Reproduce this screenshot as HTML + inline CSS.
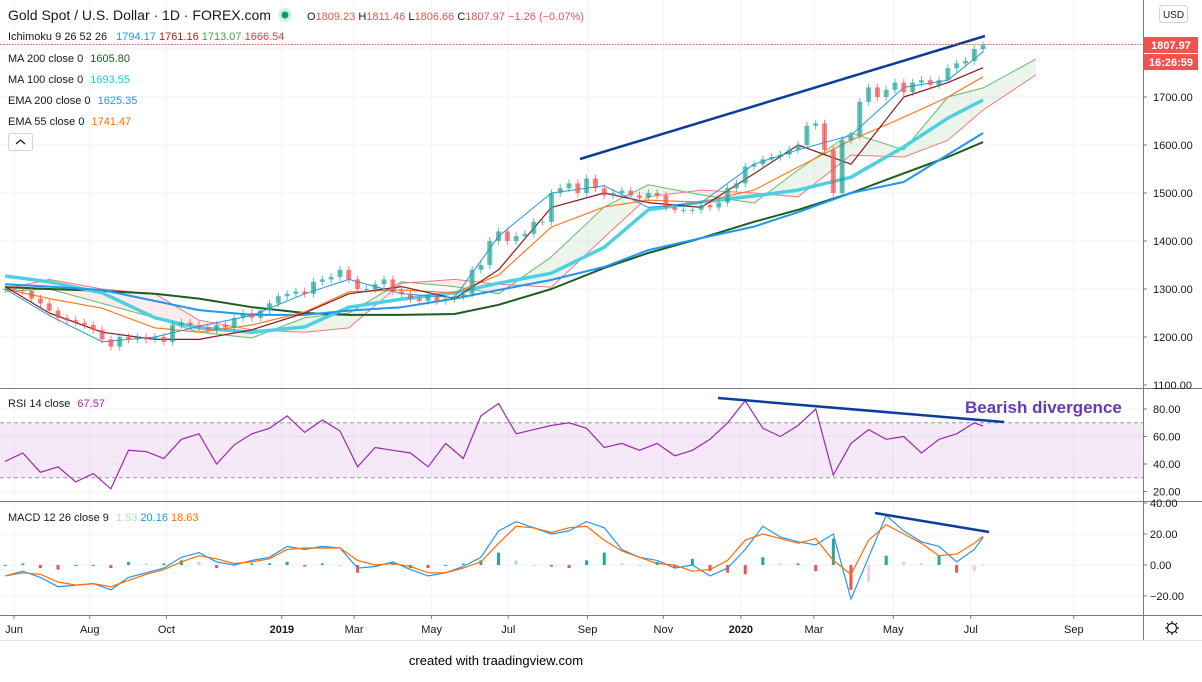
<!DOCTYPE html>
<html><head><meta charset="utf-8">
<style>
html,body{margin:0;padding:0;background:#fff;}
body{width:1202px;height:677px;overflow:hidden;font-family:"Liberation Sans",sans-serif;}
svg text{font-family:"Liberation Sans","DejaVu Sans",sans-serif;}
</style></head>
<body>
<svg id="chart" width="1202" height="677" viewBox="0 0 1202 677" xmlns="http://www.w3.org/2000/svg">
<rect x="0" y="0" width="1202" height="677" fill="#fff"/>
<g id="grid"></g>
<g id="cloud"></g>
<g id="lines"></g>
<g id="candles"></g>
<g id="rsi"></g>
<g id="macd"></g>
<g id="draw">
  <line x1="580" y1="159" x2="985" y2="36" stroke="#0d3d9c" stroke-width="2.5"/>
  <line x1="718" y1="398" x2="1004" y2="422" stroke="#0d3d9c" stroke-width="2.5"/>
  <line x1="875" y1="513" x2="989" y2="532" stroke="#0d3d9c" stroke-width="2.5"/>
  <text x="965" y="413" font-size="17" font-weight="bold" fill="#673ab7">Bearish divergence</text>
</g>
<g id="frame">
  <line x1="1143.5" y1="0" x2="1143.5" y2="640" stroke="#787b86"/>
  <line x1="0" y1="388.5" x2="1202" y2="388.5" stroke="#787b86"/>
  <line x1="0" y1="501.5" x2="1202" y2="501.5" stroke="#787b86"/>
  <line x1="0" y1="615.5" x2="1202" y2="615.5" stroke="#787b86"/>
  <line x1="0" y1="640.5" x2="1202" y2="640.5" stroke="#e0e3eb"/>
  <line x1="0" y1="44.5" x2="1143" y2="44.5" stroke="#ef5350" stroke-dasharray="1.5,1.5"/>
</g>
<g id="axes"></g>
<g id="legend" font-size="11">
  <text x="8" y="20" font-size="14" fill="#131722">Gold Spot / U.S. Dollar · 1D · FOREX.com</text>
  <circle cx="285" cy="15" r="7" fill="#d6efe9"/>
  <circle cx="285" cy="15" r="3.5" fill="#089981"/>
  <text x="307" y="20" fill="#ef5350"><tspan fill="#131722">O</tspan>1809.23 <tspan fill="#131722">H</tspan>1811.46 <tspan fill="#131722">L</tspan>1806.66 <tspan fill="#131722">C</tspan>1807.97 −1.26 (−0.07%)</text>
  <text x="8" y="40" fill="#131722">Ichimoku 9 26 52 26 <tspan dx="6" fill="#2196f3">1794.17</tspan> <tspan fill="#a52714">1761.16</tspan> <tspan fill="#43a047">1713.07</tspan> <tspan fill="#f23645">1666.54</tspan></text>
  <text x="8" y="62" fill="#131722">MA 200 close 0 <tspan dx="4" fill="#1b5e20">1605.80</tspan></text>
  <text x="8" y="83" fill="#131722">MA 100 close 0 <tspan dx="4" fill="#26c6da">1693.55</tspan></text>
  <text x="8" y="104" fill="#131722">EMA 200 close 0 <tspan dx="4" fill="#2196f3">1625.35</tspan></text>
  <text x="8" y="125" fill="#131722">EMA 55 close 0 <tspan dx="4" fill="#ff6d00">1741.47</tspan></text>
  <rect x="8.5" y="133.5" width="24" height="17" rx="2" fill="#fff" stroke="#d1d4dc"/>
  <path d="M16 144 L20.5 140 L25 144" fill="none" stroke="#131722" stroke-width="1.2"/>
  <text x="8" y="407" fill="#131722">RSI 14 close <tspan dx="4" fill="#9c27b0">67.57</tspan></text>
  <text x="8" y="521" fill="#131722">MACD 12 26 close 9 <tspan dx="4" fill="#b2dfdb">1.53</tspan> <tspan fill="#2196f3">20.16</tspan> <tspan fill="#ff6d00">18.63</tspan></text>
  <rect x="1159.5" y="5.5" width="28" height="17" rx="3" fill="#fff" stroke="#d1d4dc"/>
  <text x="1173.5" y="18" font-size="10" text-anchor="middle" fill="#131722">USD</text>
  <rect x="1144" y="37" width="54" height="16" fill="#ef5350"/>
  <text x="1171" y="49" font-size="11" font-weight="bold" text-anchor="middle" fill="#fff">1807.97</text>
  <rect x="1144" y="54" width="54" height="16" fill="#ef5350"/>
  <text x="1171" y="66" font-size="11" font-weight="bold" text-anchor="middle" fill="#fff">16:26:59</text>
  <g transform="translate(1172,628)" fill="none" stroke="#131722" stroke-width="1.2">
    <circle r="4.5"/><path d="M0 -7V-5M0 5V7M-7 0H-5M5 0H7M-5 -5L-3.5 -3.5M3.5 3.5L5 5M-5 5L-3.5 3.5M3.5 -3.5L5 -5"/>
  </g>
  <text x="496" y="665" font-size="13" text-anchor="middle" fill="#000">created with traadingview.com</text>
</g>
</svg>
<script>
// ---- data ----
const closes=[1300,1298,1296,1280,1270,1255,1240,1235,1230,1225,1215,1195,1180,1200,1195,1200,1195,1200,1190,1225,1230,1225,1220,1215,1225,1220,1240,1250,1240,1255,1270,1285,1290,1295,1290,1315,1320,1325,1340,1320,1300,1300,1310,1320,1295,1290,1280,1275,1285,1275,1280,1285,1290,1340,1350,1400,1420,1400,1410,1415,1440,1440,1500,1510,1520,1500,1530,1510,1495,1500,1505,1495,1490,1500,1495,1470,1465,1465,1465,1475,1470,1480,1510,1520,1555,1560,1570,1575,1580,1590,1600,1640,1645,1590,1500,1610,1620,1690,1720,1700,1715,1730,1710,1730,1735,1725,1735,1760,1770,1775,1800,1808];
const firstWeek=-1;
const indWeeks=[-1,4,10,16,21,27,33,38,44,50,55,61,67,72,78,84,89,95,101,106,110];
const ma200=[1304,1300,1296,1290,1280,1262,1250,1246,1246,1248,1267,1300,1344,1375,1406,1440,1465,1500,1541,1575,1606];
const ma100=[1327,1315,1292,1240,1219,1210,1221,1262,1279,1292,1312,1333,1387,1465,1481,1494,1506,1533,1596,1656,1694];
const ema200=[1310,1305,1298,1275,1256,1246,1246,1255,1262,1280,1298,1319,1346,1381,1406,1430,1460,1500,1523,1580,1625];
const ema55=[1300,1280,1260,1219,1210,1225,1252,1294,1298,1292,1329,1429,1471,1485,1481,1506,1554,1610,1658,1700,1742];
const kijun=[1305,1250,1210,1195,1195,1215,1250,1290,1305,1280,1340,1470,1500,1480,1470,1540,1600,1560,1700,1730,1761];
const tenkan=[1300,1245,1190,1200,1222,1245,1290,1320,1290,1282,1410,1500,1515,1470,1480,1560,1590,1620,1720,1735,1794];
const cloudWeeks=[-1,4,10,16,21,27,33,38,44,50,55,61,67,72,78,84,89,95,101,106,110,116];
const spanA=[1295,1300,1270,1240,1210,1198,1240,1250,1315,1305,1290,1367,1471,1517,1496,1479,1548,1625,1590,1700,1719,1779];
const spanB=[1300,1320,1300,1290,1235,1215,1210,1219,1312,1320,1310,1304,1408,1492,1506,1500,1492,1579,1575,1610,1673,1746];
const oscWeeks=[-1,1,3,5,7,9,11,13,15,17,19,21,23,25,27,29,31,33,35,37,39,41,43,45,47,49,51,53,55,57,59,61,63,65,67,69,71,73,75,77,79,81,83,85,87,89,91,93,95,97,99,101,103,105,107,109,110];
const rsiVals=[42,48,34,38,27,33,22,50,49,44,58,62,40,54,62,66,75,63,72,64,38,52,50,48,38,55,44,75,84,62,65,68,70,66,52,55,50,55,46,50,58,70,86,66,60,68,80,32,55,65,58,60,48,58,62,70,67.6];
const macdVals=[-7,-4,-8,-14,-13,-12,-16,-8,-5,-2,5,8,2,0,3,5,12,10,12,11,-2,-1,2,-3,-7,-5,-1,5,22,28,24,20,22,28,24,10,5,3,-2,0,-7,-2,10,25,18,15,13,20,-22,5,32,22,15,12,2,10,18,20.2];
const signalVals=[-7,-5,-6,-11,-13,-12,-14,-10,-6,-3,2,6,4,1,2,4,10,11,11,11,3,0,1,-1,-5,-5,-2,2,14,25,24,21,24,25,16,9,5,1,0,-4,-3,3,16,20,17,14,17,3,-6,16,26,20,14,6,7,14,18.6];
const priceTicks=[1800,1700,1600,1500,1400,1300,1200,1100];
const rsiTicks=[80,60,40,20];
const macdTicks=[40,20,0,-20];
const timeLabels=["Jun","Aug","Oct","2019","Mar","May","Jul","Sep","Nov","2020","Mar","May","Jul","Sep"];
const timeWeeks=[0,8.6,17.3,30.4,38.6,47.4,56.1,65.1,73.7,82.5,90.8,99.8,108.6,120.3];

// ---- scales ----
const xW=w=>14+w*8.81;
const yP=p=>97+(1700-p)*0.48;
const yR=v=>409+(80-v)*1.375;
const yM=v=>565-v*1.55;
const NS="http://www.w3.org/2000/svg";
function mk(tag,parent,attrs){const e=document.createElementNS(NS,tag);for(const k in attrs)e.setAttribute(k,attrs[k]);parent.appendChild(e);return e;}
const G=id=>document.getElementById(id);
const path=(ws,vs,ys)=>ws.map((w,i)=>(i?'L':'M')+xW(w).toFixed(1)+' '+ys(vs[i]).toFixed(1)).join(' ');

// grid
const grid=G('grid');
timeWeeks.forEach(w=>{if(xW(w)<1143){const l=mk('line',grid,{x1:xW(w),x2:xW(w),y1:0,y2:615,stroke:'#f0f3fa'});}});
priceTicks.forEach(p=>{const l=mk('line',grid,{x1:0,x2:1143,y1:yP(p),y2:yP(p),stroke:'#f0f3fa'});});
rsiTicks.forEach(v=>{const l=mk('line',grid,{x1:0,x2:1143,y1:yR(v),y2:yR(v),stroke:'#f0f3fa'});});
macdTicks.forEach(v=>{const l=mk('line',grid,{x1:0,x2:1143,y1:yM(v),y2:yM(v),stroke:'#f0f3fa'});});

// cloud
const cl=G('cloud');
for(let i=0;i<cloudWeeks.length-1;i++){
  const x1=xW(cloudWeeks[i]),x2=xW(cloudWeeks[i+1]);
  const up=(spanA[i]+spanA[i+1])>=(spanB[i]+spanB[i+1]);
  const pg=mk('polygon',cl,{points:`${x1},${yP(spanA[i])} ${x2},${yP(spanA[i+1])} ${x2},${yP(spanB[i+1])} ${x1},${yP(spanB[i])}`,fill:up?'rgba(67,160,71,0.1)':'rgba(244,67,54,0.1)'});
  
  
}
const sa=mk('path',cl,{d:path(cloudWeeks,spanA,yP),fill:'none',stroke:'#66bb6a',"stroke-width":1});

const sb=mk('path',cl,{d:path(cloudWeeks,spanB,yP),fill:'none',stroke:'#ef7a7a',"stroke-width":1});


// lines
const ln=G('lines');
[[ma200,'#1b5e20',2,'ma200-line'],[ma100,'#4dd0e1',3.5,'ma100-line'],[ema200,'#2196f3',2,'ema200-line'],[ema55,'#ff7b1c',1.2,'ema55-line'],[kijun,'#8b1a1a',1.2,'kijun-line'],[tenkan,'#2196f3',1,'tenkan-line']].forEach(([v,c,w,n])=>{
  const p=mk('path',ln,{d:path(indWeeks,v,yP),fill:'none',stroke:c,"stroke-width":w,"stroke-linejoin":"round"});
  
  
});

// candles
const cg=G('candles');
closes.forEach((c,i)=>{
  const o=i?closes[i-1]:c, x=xW(firstWeek+i), up=c>=o, col=up?'#26a69a':'#ef5350';
  const hi=Math.max(o,c)+8, lo=Math.min(o,c)-8;
  const wk=mk('line',cg,{x1:x,x2:x,y1:yP(hi),y2:yP(lo),stroke:col,"stroke-opacity":0.75});
  
  const t=yP(Math.max(o,c)),b=yP(Math.min(o,c));
  const r=mk('rect',cg,{x:x-2.5,y:t,width:5,height:Math.max(1,b-t),fill:col,"fill-opacity":0.7});
  
});

// RSI
const rg=G('rsi');
const band=mk('rect',rg,{x:0,y:yR(70),width:1143,height:yR(30)-yR(70),fill:'rgba(156,39,176,0.1)'});

[70,30].forEach(v=>{const l=mk('line',rg,{x1:0,x2:1143,y1:yR(v),y2:yR(v),stroke:'#9598a1',"stroke-dasharray":"4,3"});});
const rl=mk('path',rg,{d:path(oscWeeks,rsiVals,yR),fill:'none',stroke:'#9c27b0',"stroke-width":1.2});


// MACD
const mg=G('macd');
oscWeeks.forEach((w,i)=>{
  const h=macdVals[i]-signalVals[i], prev=i?macdVals[i-1]-signalVals[i-1]:h;
  const col=h>=0?(h>=prev?'#26a69a':'#b2dfdb'):(h<=prev?'#ef5350':'#ffcdd2');
  const y1=yM(Math.max(0,h)),y2=yM(Math.min(0,h));
  const r=mk('rect',mg,{x:xW(w)-1.5,y:y1,width:3,height:Math.max(1,y2-y1),fill:col});
  
});
const ml=mk('path',mg,{d:path(oscWeeks,macdVals,yM),fill:'none',stroke:'#2196f3',"stroke-width":1.2});

const sl=mk('path',mg,{d:path(oscWeeks,signalVals,yM),fill:'none',stroke:'#ff6d00',"stroke-width":1.2});


// axes labels
const ax=G('axes');
function lab(x,y,t,name,anchor){const e=mk('text',ax,{x:x,y:y,"font-size":11,fill:'#131722',"text-anchor":anchor||'start'});e.textContent=t;return e;}
priceTicks.filter(p=>p<1800).forEach(p=>{mk('line',ax,{x1:1143,x2:1147,y1:yP(p),y2:yP(p),stroke:'#787b86'});lab(1153,yP(p)+4,p.toFixed(2),'price-tick');});
rsiTicks.forEach(v=>{mk('line',ax,{x1:1143,x2:1147,y1:yR(v),y2:yR(v),stroke:'#787b86'});lab(1153,yR(v)+4,v.toFixed(2),'rsi-tick');});
macdTicks.forEach(v=>{mk('line',ax,{x1:1143,x2:1147,y1:yM(v),y2:yM(v),stroke:'#787b86'});lab(1150,yM(v)+4,(v<0?'−'+Math.abs(v).toFixed(2):v.toFixed(2)),'macd-tick');});
timeLabels.forEach((t,i)=>{const x=xW(timeWeeks[i]);mk('line',ax,{x1:x,x2:x,y1:615,y2:619,stroke:'#787b86'});const e=lab(x,633,t,'time-tick','middle');if(/^\d{4}$/.test(t))e.setAttribute('font-weight','bold');});
</script>
</body></html>
